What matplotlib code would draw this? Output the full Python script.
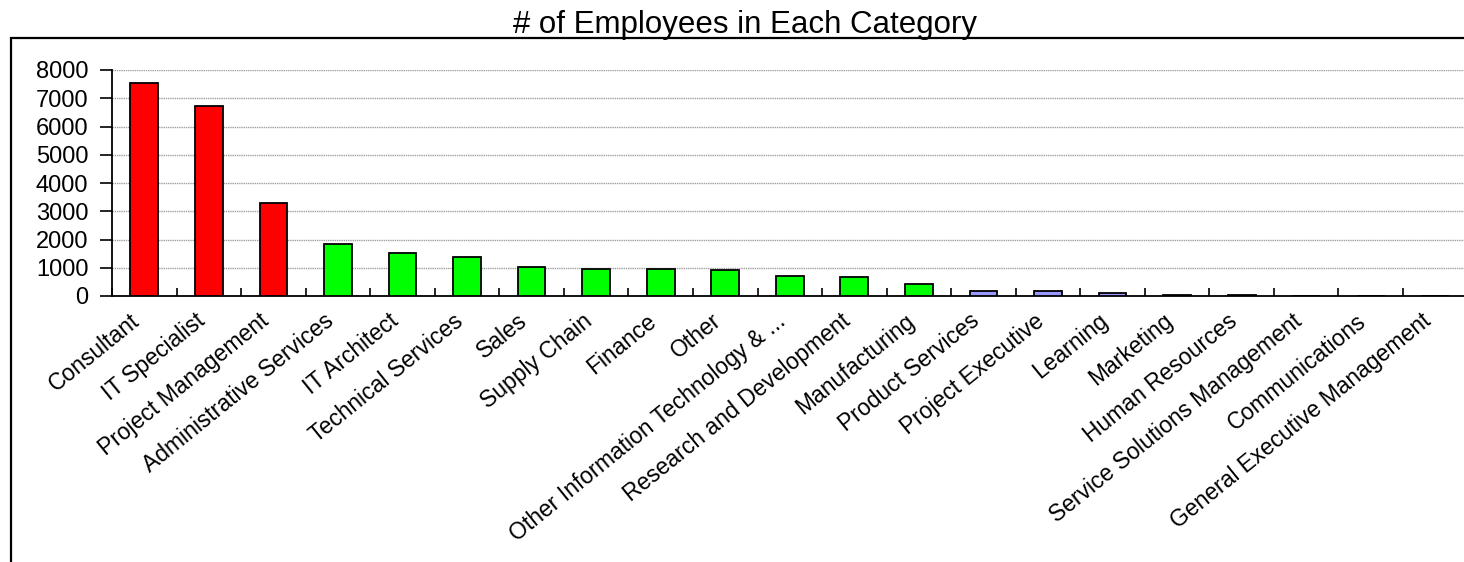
# bar chart of employee counts per job category
import matplotlib
matplotlib.use("Agg")
import matplotlib.pyplot as plt
import matplotlib.patches as patches
import matplotlib.transforms as mtransforms
import numpy as np

plt.rcParams['font.family'] = ['Liberation Sans', 'DejaVu Sans']

categories = ["Consultant", "IT Specialist", "Project Management", "Administrative Services",
              "IT Architect", "Technical Services", "Sales", "Supply Chain", "Finance", "Other",
              "Other Information Technology & ...", "Research and Development", "Manufacturing",
              "Product Services", "Project Executive", "Learning", "Marketing", "Human Resources",
              "Service Solutions Management", "Communications", "General Executive Management"]
counts = [7530, 6740, 3300, 1850, 1520, 1380, 1040, 958, 955, 910,
          720, 673, 437, 166, 164, 118, 50, 45, 4, 2, 1]
groups = ["high"] * 3 + ["mid"] * 10 + ["low"] * 8
y_ticks = [0, 1000, 2000, 3000, 4000, 5000, 6000, 7000, 8000]

group_colors = {"high": "#FF0000", "mid": "#00FF00", "low": "#9999FF"}

W, H = 1464, 562
fig = plt.figure(figsize=(W / 100, H / 100), dpi=100)

# outer frame (runs past the right and bottom edges)
frame = patches.Rectangle((11 / W, -0.1), 1.2, (H - 38) / H + 0.1, transform=fig.transFigure,
                          fill=False, edgecolor='black', linewidth=1.6, zorder=0)
fig.patches.append(frame)

ax = fig.add_axes([112 / W, (H - 296) / H, 1355.6 / W, 226 / H])

x = np.arange(len(categories))
ax.bar(x, counts, width=0.43, color=[group_colors[g] for g in groups],
       edgecolor='black', linewidth=1.3, zorder=3)

ax.set_xlim(-0.5, len(categories) - 0.5)
ax.set_ylim(0, 8000)
ax.set_yticks(y_ticks)
ax.set_yticklabels([str(v) for v in y_ticks], fontsize=17)
ax.yaxis.grid(True, color='#a0a0a0', linewidth=1.0, linestyle=(0, (1, 0.6)), zorder=0)

# category boundary ticks, labels sit under bar centres
ax.set_xticks(np.arange(len(categories) + 1) - 0.5)
ax.set_xticklabels([])
ax.set_xticks(x, categories, minor=True)
ax.tick_params(axis='x', which='major', direction='in', length=6, width=1.2)
ax.tick_params(axis='x', which='minor', length=0, pad=16)
ax.tick_params(axis='y', direction='out', length=9, width=1.2, pad=8)
shift = mtransforms.ScaledTranslation(-7 / 100, 0, fig.dpi_scale_trans)
for lbl in ax.get_xticklabels(minor=True):
    lbl.set_rotation(39)
    lbl.set_ha('right')
    lbl.set_va('center')
    lbl.set_rotation_mode('anchor')
    lbl.set_fontsize(16.5)
    lbl.set_transform(lbl.get_transform() + shift)

for side in ['top', 'right']:
    ax.spines[side].set_visible(False)
for side in ['left', 'bottom']:
    ax.spines[side].set_linewidth(1.3)

fig.text(745 / W, (H - 33) / H, "# of Employees in Each Category", fontsize=22.5,
         ha='center', va='baseline')

fig.savefig("out.png", dpi=100)
